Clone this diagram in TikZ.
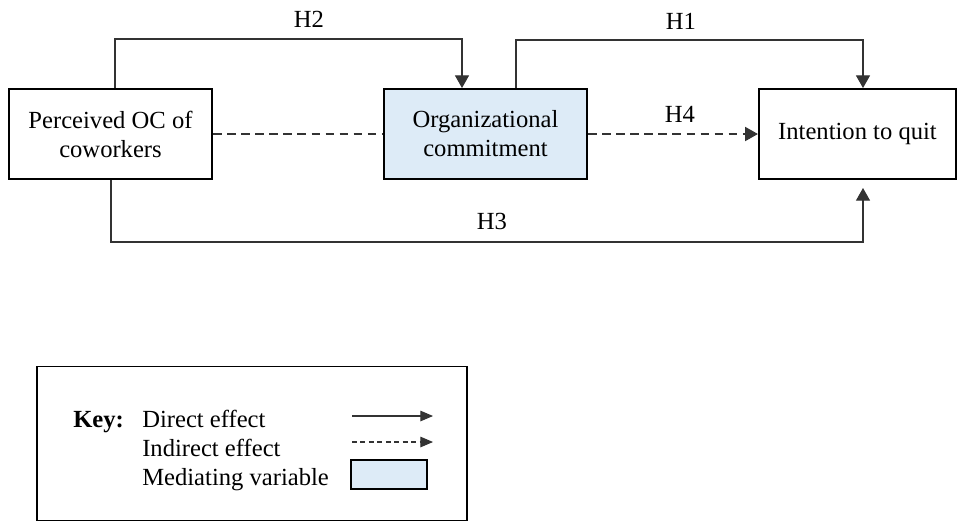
\documentclass[tikz,border=0pt]{standalone}
\usepackage{fontspec}
\setmainfont{Liberation Serif}
\usetikzlibrary{calc}
\usetikzlibrary{positioning}
\usetikzlibrary{arrows.meta}
\definecolor{medblue}{HTML}{DDEBF7}
\tikzstyle{varbox} = [draw, line width=1.4pt, minimum width=5.08cm, minimum height=2.25cm, align=center, font=\fontsize{17.5}{20.6}\selectfont]
\tikzstyle{medbox} = [varbox, fill=medblue]
\tikzstyle{direct} = [draw=black!80, line width=0.75pt, -{Triangle[length=9pt,width=10pt]}]
\tikzstyle{indirect} = [direct, dash pattern=on 6pt off 4pt]
\tikzstyle{hlabel} = [font=\fontsize{17.5}{20.6}\selectfont, inner sep=0pt]
\tikzstyle{keytext} = [hlabel, anchor=base west]

\begin{document}
\begin{tikzpicture}[x=0.025cm, y=-0.025cm]
    \useasboundingbox (0,0) rectangle (958,522);

    \node[varbox] (perc_oc) at (110.5,134) {Perceived OC of\\coworkers};
    \node[medbox] (org_comm) at ($(perc_oc)+(375,0)$) {Organizational\\commitment};
    \node[varbox, minimum width=4.93cm] (int_quit) at ($(org_comm)+(372,0)$) {Intention to quit};

    \draw[indirect, -] (perc_oc.east) -- (org_comm.west);
    \draw[indirect] (org_comm.east) -- (int_quit.west);
    \draw[direct] ($(perc_oc.north)+(4.5,0)$) -- ++(0,-49) -| ($(org_comm.north)+(-23.5,0)$);
    \draw[direct] ($(org_comm.north)+(30.5,0)$) -- ++(0,-48) -| ($(int_quit.north)+(5.5,0)$);
    \draw[direct] ($(perc_oc.south)+(0.5,0)$) -- ++(0,62) -| ($(int_quit.south)+(5.5,8)$);

    \node[hlabel] (h2_lab) at (309,19) {H2};
    \node[hlabel] (h1_lab) at (681,21) {H1};
    \node[hlabel] (h4_lab) at (680,114) {H4};
    \node[hlabel] (h3_lab) at (492,221) {H3};

    % key
    \node[draw, line width=1.2pt, minimum width=10.75cm, minimum height=3.85cm] (key_box) at (252,443.5) {};
    \node[keytext] (key_lab) at (73,427) {\textbf{Key:}};
    \node[keytext] (key_dir) at (142,427) {Direct effect};
    \node[keytext] (key_ind) at (142,456) {Indirect effect};
    \node[keytext] (key_med) at (142,485) {Mediating variable};
    \coordinate (dir_start) at (352,416);
    \coordinate (dir_end) at (433,416);
    \coordinate (ind_start) at (352,442);
    \coordinate (ind_end) at (433,442);
    \draw[direct, -{Triangle[length=9pt,width=7.5pt]}] (dir_start) -- (dir_end);
    \draw[direct, dash pattern=on 3.5pt off 2.5pt, -{Triangle[length=9pt,width=7.5pt]}] (ind_start) -- (ind_end);
    \node[draw, line width=1.4pt, fill=medblue, minimum width=1.88cm, minimum height=0.72cm] (key_rect) at (389,474.5) {};
\end{tikzpicture}
\end{document}
